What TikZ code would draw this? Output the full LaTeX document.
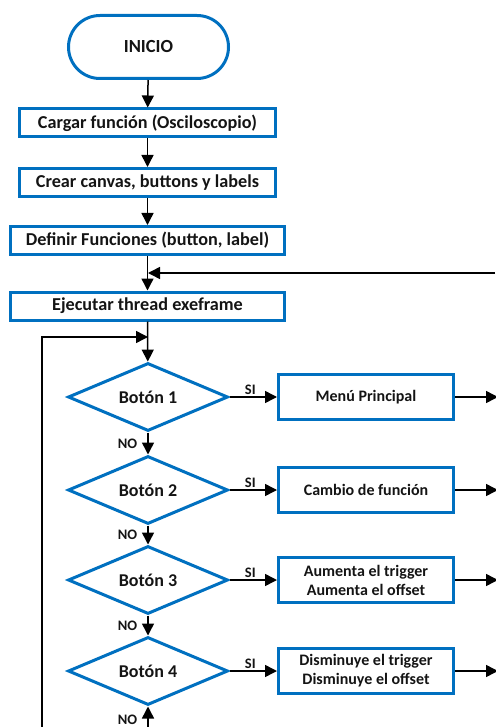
\documentclass[tikz,border=0pt]{standalone}
\usepackage{fontspec}
\setmainfont{Carlito}
\usetikzlibrary{arrows.meta,shapes.geometric}
\definecolor{flowblue}{RGB}{0,112,192}
\definecolor{ink}{RGB}{20,20,20}
\begin{document}
\begin{tikzpicture}[x=1pt,y=-1pt,
  every node/.style={text=ink},
  term/.style={draw=flowblue,line width=3pt,minimum width=160pt,minimum height=63pt,
    rounded corners=31.5pt,font=\fontsize{18.5}{20}\selectfont\bfseries},
  mainbox/.style={draw=flowblue,line width=3pt,minimum height=28pt,inner sep=2pt,
    font=\fontsize{18.2}{20}\selectfont\bfseries},
  decision/.style={draw=flowblue,line width=3pt,shape=diamond,aspect=2.3,inner sep=0pt,
    minimum width=160pt,minimum height=68pt,font=\fontsize{18}{20}\selectfont\bfseries},
  actbox/.style={draw=flowblue,line width=3pt,minimum width=175pt,minimum height=45pt,
    align=center,font=\fontsize{16}{19}\selectfont\bfseries},
  arr/.style={draw=black,line width=1.5pt,-{Triangle[length=12pt,width=12pt]}},
  tag/.style={inner sep=0pt,font=\fontsize{14.5}{15}\selectfont\bfseries}]
\useasboundingbox (0,0) rectangle (495,727);

% start and sequential steps
\node[term] (inicio) at (148.5,47) {INICIO};
\node[mainbox,minimum width=256pt] (cargar) at (147.5,123) {Cargar función (Osciloscopio)};
\node[mainbox,minimum width=256pt] (crear) at (147.5,182.5) {Crear canvas, buttons y labels};
\node[mainbox,minimum width=274pt] (definir) at (147.5,240.5) {Definir Funciones (button, label)};
\node[mainbox,minimum width=274pt] (ejecutar) at (147.5,306) {Ejecutar thread exeframe};

% button checks
\node[decision] (b1) at (148,397) {Botón 1};
\node[decision] (b2) at (148,490) {Botón 2};
\node[decision] (b3) at (148,580) {Botón 3};
\node[decision] (b4) at (148,671) {Botón 4};

% actions
\node[actbox] (a1) at (366,397) {Menú Principal};
\node[actbox] (a2) at (366,490) {Cambio de función};
\node[actbox] (a3) at (366,580) {Aumenta el trigger\\Aumenta el offset};
\node[actbox] (a4) at (366,671) {Disminuye el trigger\\Disminuye el offset};

% helper points for the loops
\coordinate (fb) at (148,273);
\coordinate (fbR) at (495,273);
\coordinate (lp) at (148,337);
\coordinate (lpL) at (42,337);
\coordinate (lpB) at (42,727);
\coordinate (noB) at (148,727);
\coordinate (o1) at (498,397);
\coordinate (o2) at (498,490);
\coordinate (o3) at (498,580);
\coordinate (o4) at (498,671);

% main sequence
\draw[arr] (inicio) -- (cargar);
\draw[arr] (cargar) -- (crear);
\draw[arr] (crear) -- (definir);
\draw[arr] (definir) -- (ejecutar);
\draw[arr] (fbR) -- (fb);
\draw[arr] (ejecutar) -- (b1);
\draw[arr] (lpB) -- (lpL) -- (lp);

% NO branches
\draw[arr] (b1) -- node[tag,left=10pt] {NO} (b2);
\draw[arr] (b2) -- node[tag,left=10pt] {NO} (b3);
\draw[arr] (b3) -- node[tag,left=10pt] {NO} (b4);
\draw[arr] (noB) -- node[tag,left=10pt,pos=0.35] {NO} (b4);

% SI branches
\draw[arr] (b1) -- node[tag,above=2pt,xshift=-3pt] {SI} (a1);
\draw[arr] (b2) -- node[tag,above=2pt,xshift=-3pt] {SI} (a2);
\draw[arr] (b3) -- node[tag,above=2pt,xshift=-3pt] {SI} (a3);
\draw[arr] (b4) -- node[tag,above=2pt,xshift=-3pt] {SI} (a4);

% outgoing returns
\draw[arr] (a1) -- (o1);
\draw[arr] (a2) -- (o2);
\draw[arr] (a3) -- (o3);
\draw[arr] (a4) -- (o4);
\end{tikzpicture}
\end{document}
